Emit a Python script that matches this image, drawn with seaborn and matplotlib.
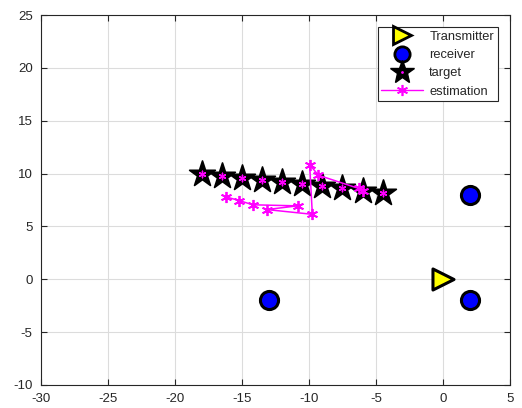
import numpy as np
import pandas as pd
import matplotlib
matplotlib.use('Agg')
import matplotlib.pyplot as plt
from matplotlib.lines import Line2D
from matplotlib.legend_handler import HandlerTuple
import seaborn as sns

# --- data ---
tx_x = [0]
tx_y = [0]

rx_x = [2, 2, -13]
rx_y = [8, -2, -2]

target_x = [-18, -16.5, -15, -13.5, -12, -10.5, -9, -7.5, -6, -4.5]
target_y = [10, 9.8, 9.6, 9.4, 9.2, 9.0, 8.8, 8.6, 8.4, 8.2]

est_x = [-16.2, -15.2, -14.2, -10.85, -13.15, -9.75, -9.95, -9.3, -6.3, -6.0]
est_y = [7.8, 7.45, 7.05, 6.95, 6.6, 6.15, 10.85, 9.85, 8.6, 8.4]

xticks = np.arange(-30, 6, 5)
yticks = np.arange(-10, 26, 5)

# --- style ---
sns.set_theme(style="whitegrid")
plt.rcParams['font.family'] = ['Liberation Sans', 'DejaVu Sans']
plt.rcParams['axes.unicode_minus'] = False

asterisk = (6, 2, 0)

fig = plt.figure(figsize=(5.22, 4.08), dpi=100)
ax = fig.add_axes([0.0785, 0.0564, 0.8985, 0.9066])
ax.set_facecolor('white')

est_df = pd.DataFrame({'x': est_x, 'y': est_y})
tgt_df = pd.DataFrame({'x': target_x, 'y': target_y})

# targets: big black stars with small magenta asterisk inside
sns.scatterplot(data=tgt_df, x='x', y='y', marker='*', s=380, color='black',
                edgecolor='black', linewidth=1.2, ax=ax, zorder=3, legend=False)
sns.scatterplot(data=tgt_df, x='x', y='y', marker=asterisk, s=22,
                edgecolor='magenta', color='magenta', linewidth=1.0,
                ax=ax, zorder=4, legend=False)

# estimation track
sns.lineplot(data=est_df, x='x', y='y', sort=False, estimator=None,
             color='magenta', linewidth=1.1, marker=asterisk, markersize=8,
             markeredgewidth=1.3, markeredgecolor='magenta', ax=ax, zorder=5)

# receivers
sns.scatterplot(x=rx_x, y=rx_y, marker='o', s=170, color='blue',
                edgecolor='black', linewidth=2.2, ax=ax, zorder=3, legend=False)

# transmitter
sns.scatterplot(x=tx_x, y=tx_y, marker='>', s=230, color='yellow',
                edgecolor='black', linewidth=2.2, ax=ax, zorder=3, legend=False)

ax.set_xlim(-30, 5)
ax.set_ylim(-10, 25)
ax.set_xticks(xticks)
ax.set_yticks(yticks)
ax.set_xlabel('')
ax.set_ylabel('')
ax.grid(True, color='#dcdcdc', linewidth=0.8)
for sp in ax.spines.values():
    sp.set_color('#262626')
    sp.set_linewidth(0.8)
ax.tick_params(direction='in', length=4, width=0.8, color='#262626',
               labelsize=9.5, labelcolor='#262626', top=True, right=True,
               bottom=True, left=True, pad=6)

# legend
h_tx = Line2D([], [], linestyle='none', marker='>', markersize=13,
              markerfacecolor='yellow', markeredgecolor='black', markeredgewidth=2)
h_rx = Line2D([], [], linestyle='none', marker='o', markersize=11,
              markerfacecolor='blue', markeredgecolor='black', markeredgewidth=2)
h_tg = Line2D([], [], linestyle='none', marker='*', markersize=18,
              markerfacecolor='black', markeredgecolor='black')
h_tg2 = Line2D([], [], linestyle='none', marker='.', markersize=2, color='magenta')
h_est = Line2D([], [], color='magenta', linewidth=1, marker=asterisk,
               markersize=8, markeredgewidth=1.2)
leg = ax.legend([h_tx, h_rx, (h_tg, h_tg2), h_est],
                ['Transmitter', 'receiver', 'target', 'estimation'],
                handler_map={tuple: HandlerTuple(ndivide=1, pad=0)},
                loc='upper right', bbox_to_anchor=(0.974, 0.968),
                fontsize=9.3, frameon=True, fancybox=False, framealpha=1,
                edgecolor='#262626', handlelength=3.2, handletextpad=0.5,
                borderpad=0.3, labelspacing=0.48, borderaxespad=0)
leg.get_frame().set_linewidth(0.8)

fig.savefig('out.png', dpi=100)
